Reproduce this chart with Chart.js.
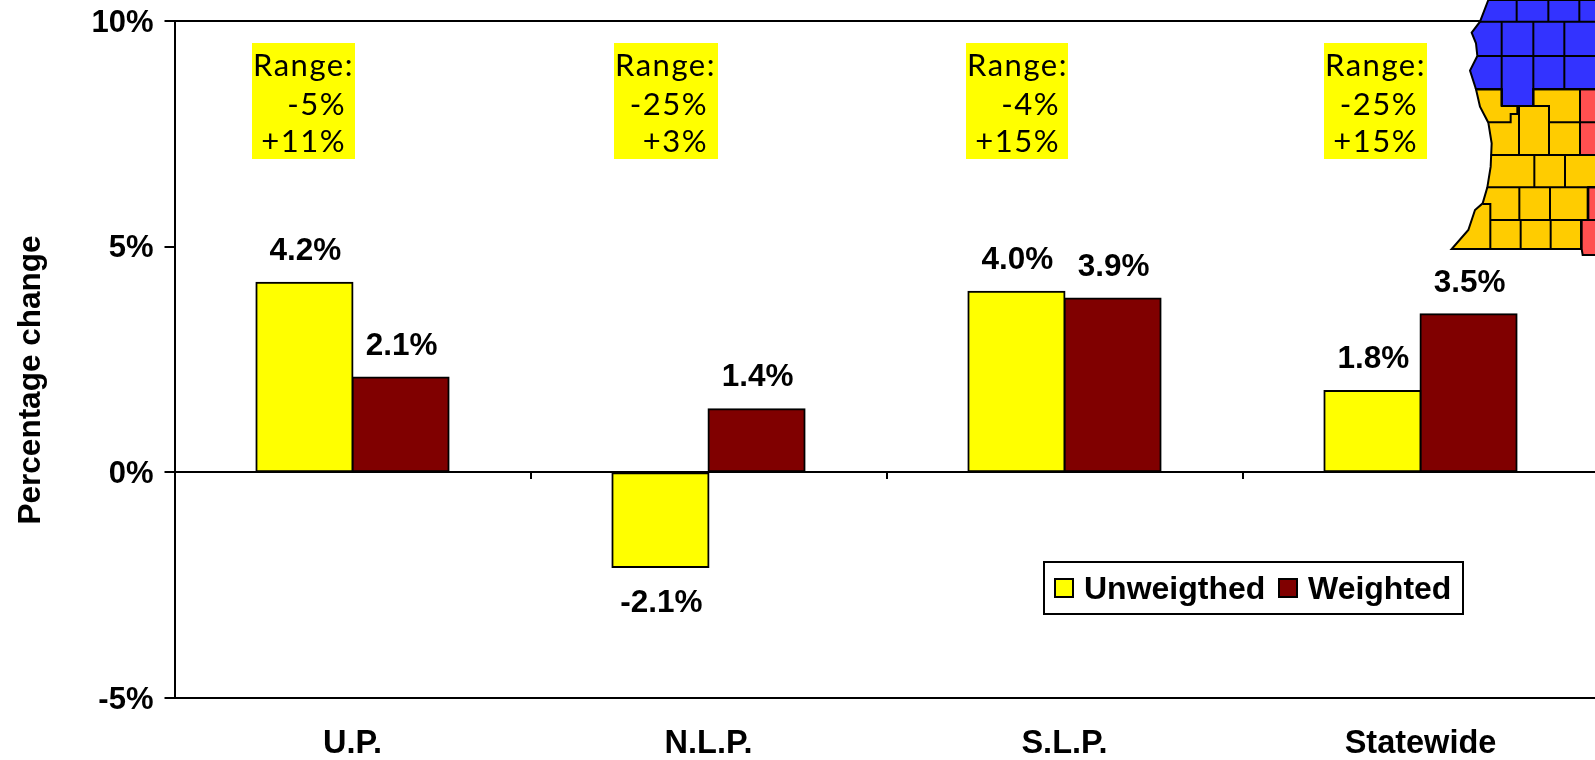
<!DOCTYPE html>
<html>
<head>
<meta charset="utf-8">
<script src="https://cdn.jsdelivr.net/npm/chart.js@4"></script>
<style>
html,body{margin:0;padding:0;background:#fff;overflow:hidden;width:1595px;height:760px}
#wrap{position:relative;width:1595px;height:760px;overflow:hidden}
canvas{position:absolute;left:0;top:0}
</style>
</head>
<body>
<div id="wrap"><canvas id="c" width="1600" height="760" style="width:1600px;height:760px"></canvas></div>
<script>
const categories = ["U.P.", "N.L.P.", "S.L.P.", "Statewide"];
const unweighted = [4.2, -2.1, 4.0, 1.8];
const weighted = [2.1, 1.4, 3.85, 3.5];
const yTicks = [-5, 0, 5, 10];
const rangeLow = ["-5%", "-25%", "-4%", "-25%"];
const rangeHigh = ["+11%", "+3%", "+15%", "+15%"];
const yAxisTitle = "Percentage change";

const FONT = '"Liberation Sans", Arial, sans-serif';
const boxLefts = [252, 614, 966, 1324];
const boxWidths = [103, 104, 102, 103];

const mapBlue = [[265,0],[240,65],[215,98],[228,130],[232,168],[210,212],[228,268],[305,268],[305,318],[400,318],[400,268],[590,268],[590,0]];
const mapOrange = [[228,268],[240,320],[265,368],[275,430],[272,500],[262,562],[248,610],[225,630],[205,690],[155,747],[545,747],[545,660],[565,660],[565,562],[590,562],[590,465],[540,465],[540,268],[400,268],[400,318],[305,318],[305,268]];
const mapRed = [[[540,268],[590,268],[590,465],[540,465]],[[565,562],[590,562],[590,660],[565,660]],[[545,660],[590,660],[590,765],[548,765],[545,747]]];
const mapLines = [
 [[240,65],[590,65]],[[350,0],[350,65]],[[445,0],[445,65]],[[538,0],[538,65]],
 [[232,168],[590,168]],[[305,65],[305,318]],[[400,65],[400,318]],[[493,65],[493,268]],
 [[228,268],[305,268]],[[400,268],[590,268]],[[305,318],[352,318],[352,342],[332,342],[332,367],[265,367]],
 [[400,318],[447,318],[447,465]],[[357,318],[357,465]],[[447,367],[590,367]],[[540,268],[540,465]],
 [[272,465],[590,465]],[[403,465],[403,562]],[[495,465],[495,562]],
 [[262,562],[590,562]],[[358,562],[358,660]],[[450,562],[450,660]],[[563,562],[563,660]],
 [[271,660],[590,660]],[[248,612],[271,612],[271,747]],[[362,660],[362,747]],[[452,660],[452,747]],[[543,660],[543,747]]
];

function poly(ctx, pts, close){
  ctx.beginPath();
  pts.forEach((p,i)=> i?ctx.lineTo(p[0],p[1]):ctx.moveTo(p[0],p[1]));
  if(close) ctx.closePath();
}

const overlay = {
  id:'overlay',
  afterDraw(chart){
    const ctx = chart.ctx;
    ctx.save();
    // value labels
    ctx.fillStyle='#000';
    ctx.font='bold 31.5px '+FONT;
    ctx.textAlign='center';
    ctx.textBaseline='middle';
    chart.data.datasets.forEach((ds,i)=>{
      chart.getDatasetMeta(i).data.forEach((bar,j)=>{
        const v=ds.data[j];
        const y = v>=0 ? bar.y-31.5 : bar.y+36;
        ctx.fillText(v.toFixed(1)+'%', bar.x+1, y);
      });
    });
    // axis title
    ctx.save();
    ctx.translate(31,380);
    ctx.rotate(-Math.PI/2);
    ctx.font='bold 31.5px '+FONT;
    ctx.fillText(yAxisTitle,0,0);
    ctx.restore();
    // range boxes
    categories.forEach((c,i)=>{
      const l=boxLefts[i];
      ctx.fillStyle='#ffff00';
      ctx.fillRect(l,43,boxWidths[i],116);
      ctx.fillStyle='#000';
      ctx.font='31px Lato, sans-serif';
      ctx.letterSpacing='1.5px';
      ctx.textAlign='left';
      ctx.fillText('Range:',l+1,66);
      ctx.textAlign='right';
      ctx.fillText(rangeLow[i],l+94,105);
      ctx.fillText(rangeHigh[i],l+94,142);
      ctx.letterSpacing='0px';
    });
    // legend
    ctx.fillStyle='#fff';
    ctx.strokeStyle='#000';
    ctx.lineWidth=2;
    ctx.fillRect(1044,562,419,52);
    ctx.strokeRect(1044,562,419,52);
    ctx.font='bold 32px '+FONT;
    ctx.textAlign='left';
    const items=[[1055,1084],[1279,1308]];
    chart.data.datasets.forEach((ds,i)=>{
      ctx.fillStyle=ds.backgroundColor;
      ctx.fillRect(items[i][0],579,18,18);
      ctx.strokeRect(items[i][0],579,18,18);
      ctx.fillStyle='#000';
      ctx.fillText(ds.label,items[i][1],590);
    });
    // county map inset
    ctx.translate(1400,0);
    ctx.scale(1/3,1/3);
    ctx.lineJoin='miter';
    ctx.lineWidth=6;
    ctx.strokeStyle='#000';
    ctx.fillStyle='#3333ff';
    poly(ctx,mapBlue,true);ctx.fill();ctx.stroke();
    ctx.fillStyle='#ffcc00';
    poly(ctx,mapOrange,true);ctx.fill();ctx.stroke();
    ctx.fillStyle='#ff5050';
    mapRed.forEach(r=>{poly(ctx,r,true);ctx.fill();ctx.stroke();});
    mapLines.forEach(l=>{poly(ctx,l,false);ctx.stroke();});
    ctx.restore();
  }
};

new Chart(document.getElementById('c'),{
  type:'bar',
  data:{
    labels:categories,
    datasets:[
      {label:'Unweigthed',data:unweighted,backgroundColor:'#ffff00',borderColor:'#000',borderWidth:2,borderSkipped:false,inflateAmount:1,xAxisID:'x',barPercentage:1,categoryPercentage:0.54},
      {label:'Weighted',data:weighted,backgroundColor:'#800000',borderColor:'#000',borderWidth:2,borderSkipped:false,inflateAmount:1,xAxisID:'x',barPercentage:1,categoryPercentage:0.54}
    ]
  },
  options:{
    responsive:false,
    animation:false,
    events:[],
    layout:{padding:{top:21,right:1.5,left:0,bottom:0}},
    plugins:{legend:{display:false},tooltip:{enabled:false},title:{display:false}},
    scales:{
      x:{
        type:'category',
        position:'bottom',
        grid:{display:false,drawTicks:false},
        border:{display:true,color:'#000',width:2},
        ticks:{color:'#000',font:{family:FONT,size:32.5,weight:'bold'},padding:27,maxRotation:0,autoSkip:false},
        afterFit(s){s.height=62;}
      },
      xZero:{
        type:'category',
        axis:'x',
        position:{y:0},
        grid:{display:true,offset:true,drawOnChartArea:false,drawTicks:true,tickLength:6,color:'#000',lineWidth:2},
        border:{display:true,color:'#000',width:2},
        ticks:{display:false}
      },
      y:{
        min:-5,max:10,
        afterBuildTicks(s){s.ticks=yTicks.map(v=>({value:v}));},
        grid:{
          drawOnChartArea:true,
          color:c=>(c.tick&&(c.tick.value===10||c.tick.value===-5))?'#000':'rgba(0,0,0,0)',
          tickColor:'#000',lineWidth:2,tickLength:10
        },
        border:{display:true,color:'#000',width:2},
        ticks:{color:'#000',font:{family:FONT,size:31,weight:'bold'},padding:11,labelOffset:2,callback:v=>v+'%'},
        afterFit(s){s.width=174.5;s.paddingTop=0;s.paddingBottom=0;}
      }
    }
  },
  plugins:[overlay]
});
</script>
</body>
</html>
